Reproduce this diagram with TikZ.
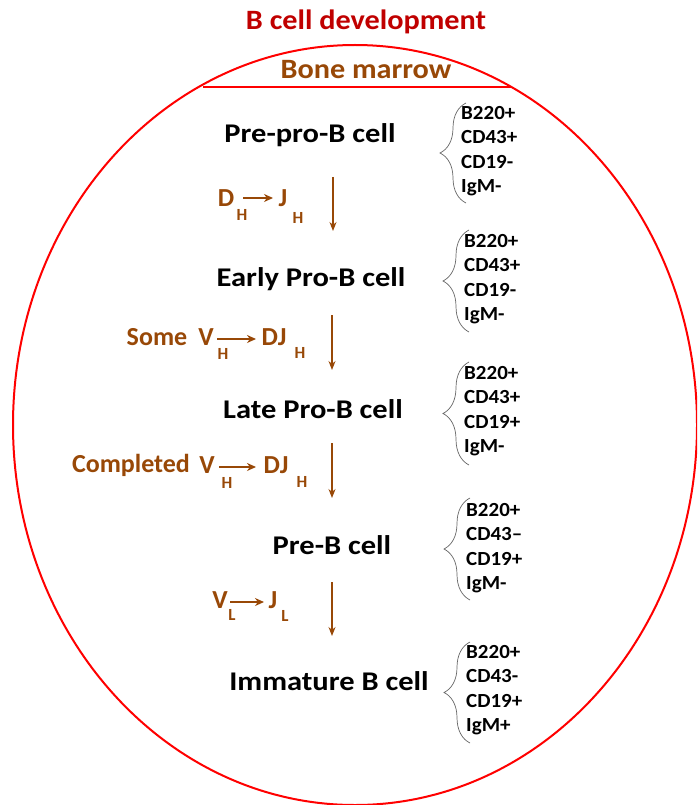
\documentclass[tikz,border=0pt]{standalone}
\usepackage{fontspec}
\setmainfont{Carlito}
\usetikzlibrary{decorations.pathreplacing,arrows.meta}
\definecolor{titlered}{HTML}{C00000}
\definecolor{brn}{HTML}{984807}
\definecolor{ellred}{HTML}{FF0000}
\begin{document}
\begin{tikzpicture}[x=1pt,y=-1pt,
  title/.style={font=\bfseries\fontsize{28}{32}\selectfont, text=titlered, inner sep=0pt, xscale=1.08},
  bm/.style={font=\bfseries\fontsize{28}{32}\selectfont, text=brn, inner sep=0pt, xscale=1.08},
  cellname/.style={font=\bfseries\fontsize{27}{32}\selectfont, text=black, inner sep=0pt, xscale=1.13},
  lbl/.style={font=\bfseries\fontsize{26}{30}\selectfont, text=brn, inner sep=0pt},
  sub/.style={font=\bfseries\fontsize{17}{19}\selectfont, text=brn, inner sep=0pt},
  mk/.style={font=\bfseries\fontsize{20}{24.5}\selectfont, text=black, inner sep=0pt, align=left, anchor=north west, xscale=1.05},
  brc/.style={draw=black!60, line width=0.7pt, decorate, decoration={brace, amplitude=26pt}},
  bigarrow/.style={draw=brn, line width=1.2pt, -{Stealth[length=9pt,width=7pt]}},
  smallarrow/.style={draw=brn, line width=1.5pt, -{Stealth[length=9pt,width=8pt]}},
]
\useasboundingbox (0,0) rectangle (697,805);
\clip (0,0) rectangle (697,805);
% ellipse
\draw[ellred, line width=2pt] (355,425) ellipse [x radius=342, y radius=380];
\coordinate (chordL) at (203,87);
\coordinate (chordR) at (511,87);
\draw[ellred, line width=2pt] (chordL) -- (chordR);
\node[title] (t) at (366,22) {B cell development};
\node[bm] (bmn) at (366,70) {Bone marrow};
% cell names
\node[cellname] (c1) at (310,135) {Pre-pro-B cell};
\node[cellname] (c2) at (311,279) {Early Pro-B cell};
\node[cellname] (c3) at (313,409) {Late Pro-B cell};
\node[cellname] (c4) at (332,545) {Pre-B cell};
\node[cellname] (c5) at (329,681) {Immature B cell};
% vertical arrows
\coordinate (a1s) at (333,177); \coordinate (a1e) at (333,231);
\coordinate (a2s) at (332,315); \coordinate (a2e) at (332,370);
\coordinate (a3s) at (332,443); \coordinate (a3e) at (332,498);
\coordinate (a4s) at (332,582); \coordinate (a4e) at (332,636);
\draw[bigarrow] (a1s) -- (a1e);
\draw[bigarrow] (a2s) -- (a2e);
\draw[bigarrow] (a3s) -- (a3e);
\draw[bigarrow] (a4s) -- (a4e);
% label 1: D_H -> J_H
\node[lbl] (l1D) at (226,198) {D};
\node[sub] (l1Dh) at (242,215) {H};
\node[lbl] (l1J) at (283,198) {J};
\node[sub] (l1Jh) at (298,218) {H};
\coordinate (l1as) at (243,198); \coordinate (l1ae) at (273,198);
\draw[smallarrow] (l1as) -- (l1ae);
% label 2: Some V_H -> DJ_H
\node[lbl] (l2s) at (157,337) {Some};
\node[lbl] (l2V) at (206,337) {V};
\node[sub] (l2Vh) at (223,354) {H};
\node[lbl] (l2DJ) at (274,337) {DJ};
\node[sub] (l2Jh) at (300,353) {H};
\coordinate (l2as) at (217,339); \coordinate (l2ae) at (256,339);
\draw[smallarrow] (l2as) -- (l2ae);
% label 3: Completed V_H -> DJ_H
\node[lbl] (l3c) at (131,465) {Completed};
\node[lbl] (l3V) at (207,465) {V};
\node[sub] (l3Vh) at (227,483) {H};
\node[lbl] (l3DJ) at (276,465) {DJ};
\node[sub] (l3Jh) at (302,482) {H};
\coordinate (l3as) at (219,467); \coordinate (l3ae) at (256,467);
\draw[smallarrow] (l3as) -- (l3ae);
% label 4: V_L -> J_L
\node[lbl] (l4V) at (220,600) {V};
\node[sub] (l4Vl) at (232,615) {L};
\node[lbl] (l4J) at (273,600) {J};
\node[sub] (l4Jl) at (285,616) {L};
\coordinate (l4as) at (230,602); \coordinate (l4ae) at (264,602);
\draw[smallarrow] (l4as) -- (l4ae);
% braces and markers
\coordinate (b1b) at (466,203); \coordinate (b1t) at (466,103);
\draw[brc] (b1b) -- (b1t);
\node[mk] (m1) at (461,106) {B220+\\CD43+\\CD19-\\IgM-};
\coordinate (b2b) at (469,332); \coordinate (b2t) at (469,230);
\draw[brc] (b2b) -- (b2t);
\node[mk] (m2) at (464,234) {B220+\\CD43+\\CD19-\\IgM-};
\coordinate (b3b) at (469,465); \coordinate (b3t) at (469,362);
\draw[brc] (b3b) -- (b3t);
\node[mk] (m3) at (464,366) {B220+\\CD43+\\CD19+\\IgM-};
\coordinate (b4b) at (470,600); \coordinate (b4t) at (470,498);
\draw[brc] (b4b) -- (b4t);
\node[mk] (m4) at (466,503) {B220+\\CD43–\\CD19+\\IgM-};
\coordinate (b5b) at (470,743); \coordinate (b5t) at (470,642);
\draw[brc] (b5b) -- (b5t);
\node[mk] (m5) at (466,645) {B220+\\CD43-\\CD19+\\IgM+};
\end{tikzpicture}
\end{document}
